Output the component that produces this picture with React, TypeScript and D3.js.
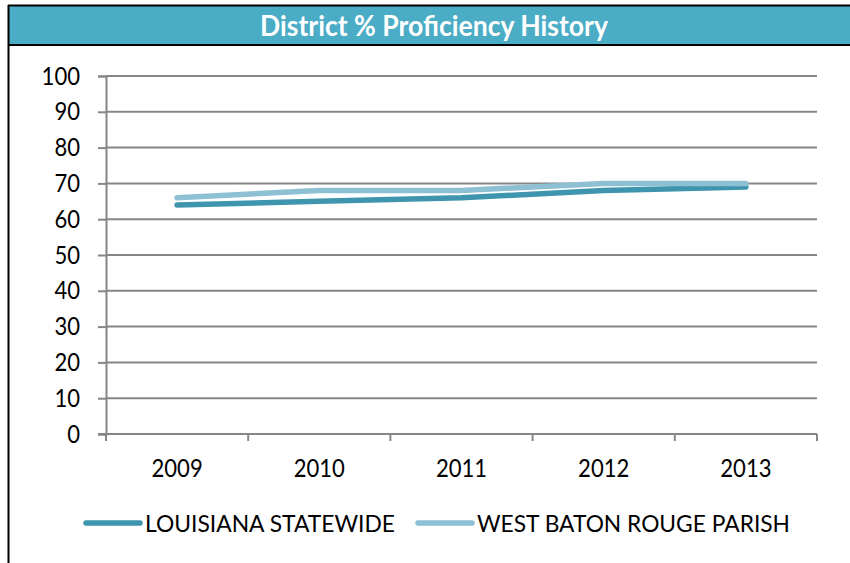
import React, { useEffect, useRef } from 'react';
import * as d3 from 'd3';

const years = ['2009', '2010', '2011', '2012', '2013'];
const louisiana = [64, 65, 66, 68, 69];
const westBatonRouge = [66, 68, 68, 70, 70];
const yTicks = [0, 10, 20, 30, 40, 50, 60, 70, 80, 90, 100];
const seriesNames = ['LOUISIANA STATEWIDE', 'WEST BATON ROUGE PARISH'];
const seriesColors = ['#3f95ae', '#8dc0d3'];

const FONT = 'Lato, "Open Sans", sans-serif';
const DIGIT_W = 12.8; // narrow, Calibri-like digits

export default function App() {
  const svgRef = useRef<SVGSVGElement>(null);

  useEffect(() => {
    if (!svgRef.current) return;
    const svg = d3.select(svgRef.current);
    svg.selectAll('*').remove();

    const margin = { top: 76, left: 106, right: 33, bottom: 129 };
    const width = 850 - margin.left - margin.right;
    const height = 563 - margin.top - margin.bottom;

    // frame + header band
    svg.append('rect')
      .attr('x', 9).attr('y', 5).attr('width', 850).attr('height', 40)
      .attr('fill', '#4bacc6');
    svg.append('line')
      .attr('x1', 8).attr('x2', 850).attr('y1', 5.5).attr('y2', 5.5)
      .attr('stroke', '#000').attr('stroke-width', 2);
    svg.append('line')
      .attr('x1', 8).attr('x2', 850).attr('y1', 45).attr('y2', 45)
      .attr('stroke', '#000').attr('stroke-width', 2);
    svg.append('line')
      .attr('x1', 8.5).attr('x2', 8.5).attr('y1', 5).attr('y2', 563)
      .attr('stroke', '#000').attr('stroke-width', 2);

    svg.append('text')
      .attr('x', 434).attr('y', 36)
      .attr('text-anchor', 'middle')
      .attr('fill', '#fff')
      .attr('font-family', FONT)
      .attr('font-weight', 'bold')
      .attr('font-size', 28)
      .attr('textLength', 348)
      .attr('lengthAdjust', 'spacingAndGlyphs')
      .text('District % Proficiency History');

    const g = svg.append('g')
      .attr('transform', `translate(${margin.left},${margin.top})`);

    const x = d3.scaleBand().domain(years).range([0, width]);
    const y = d3.scaleLinear().domain([0, 100]).range([height, 0]);

    // gridlines
    g.append('g')
      .selectAll('line')
      .data(yTicks.filter(t => t > 0))
      .join('line')
      .attr('x1', 0).attr('x2', width)
      .attr('y1', d => y(d)).attr('y2', d => y(d))
      .attr('stroke', '#868686').attr('stroke-width', 2);

    // y axis
    const yAxis = g.append('g')
      .call(d3.axisLeft(y).tickValues(yTicks).tickSize(8).tickPadding(18).tickFormat(d3.format('d')));
    yAxis.select('.domain').attr('stroke', '#868686').attr('stroke-width', 2);
    yAxis.selectAll('.tick line').attr('stroke', '#868686').attr('stroke-width', 2);
    yAxis.selectAll<SVGTextElement, number>('.tick text')
      .attr('font-family', FONT).attr('font-size', 25).attr('fill', '#000')
      .attr('textLength', d => String(d).length * DIGIT_W)
      .attr('lengthAdjust', 'spacingAndGlyphs');

    // x axis
    const xAxis = g.append('g').attr('transform', `translate(0,${height})`);
    xAxis.append('line')
      .attr('x1', -8).attr('x2', width)
      .attr('stroke', '#868686').attr('stroke-width', 2);
    xAxis.selectAll('line.tk')
      .data(years.concat(['end']))
      .join('line')
      .attr('class', 'tk')
      .attr('x1', (d, i) => i * x.step()).attr('x2', (d, i) => i * x.step())
      .attr('y1', 0).attr('y2', 7)
      .attr('stroke', '#868686').attr('stroke-width', 2);
    xAxis.selectAll('text')
      .data(years)
      .join('text')
      .attr('x', d => (x(d) ?? 0) + x.bandwidth() / 2)
      .attr('y', 43)
      .attr('text-anchor', 'middle')
      .attr('font-family', FONT).attr('font-size', 25).attr('fill', '#000')
      .attr('textLength', d => d.length * DIGIT_W)
      .attr('lengthAdjust', 'spacingAndGlyphs')
      .text(d => d);

    // lines
    const line = d3.line<number>()
      .x((d, i) => (x(years[i]) ?? 0) + x.bandwidth() / 2)
      .y(d => y(d));

    [louisiana, westBatonRouge].forEach((vals, i) => {
      g.append('path')
        .datum(vals)
        .attr('d', line)
        .attr('fill', 'none')
        .attr('stroke', seriesColors[i])
        .attr('stroke-width', 5.5)
        .attr('stroke-linecap', 'round')
        .attr('stroke-linejoin', 'round');
    });

    // legend
    const legendX = [86, 418];
    const legendW = [250, 313];
    const legend = svg.append('g');
    seriesNames.forEach((name, i) => {
      legend.append('line')
        .attr('x1', legendX[i]).attr('x2', legendX[i] + 54)
        .attr('y1', 523).attr('y2', 523)
        .attr('stroke', seriesColors[i]).attr('stroke-width', 5.5)
        .attr('stroke-linecap', 'round');
      legend.append('text')
        .attr('x', legendX[i] + 59).attr('y', 532)
        .attr('font-family', FONT).attr('font-size', 24).attr('fill', '#000')
        .attr('textLength', legendW[i])
        .attr('lengthAdjust', 'spacingAndGlyphs')
        .text(name);
    });
  }, []);

  return (
    <div style={{ position: 'absolute', left: 0, top: 0, background: '#fff' }}>
      <svg ref={svgRef} width={850} height={563} style={{ display: 'block' }} />
    </div>
  );
}
